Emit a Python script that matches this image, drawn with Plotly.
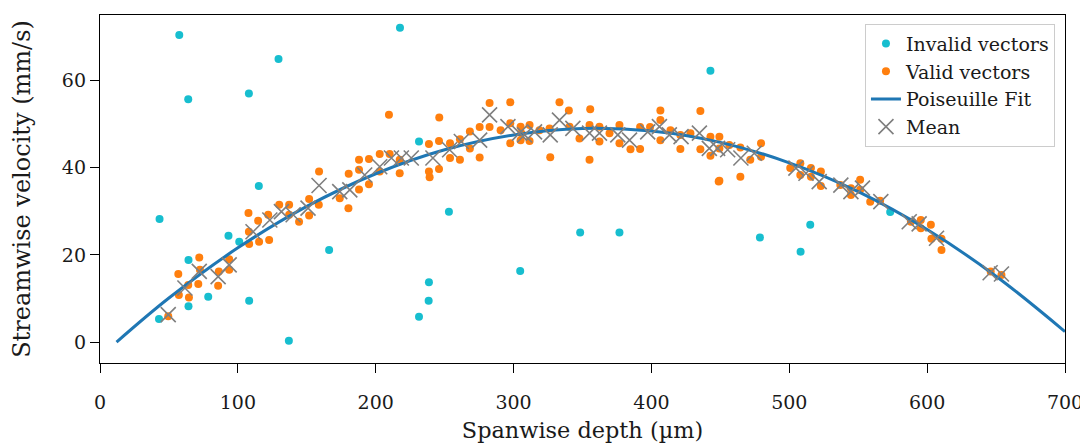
import plotly.graph_objects as go

# ---------------- data ----------------
invalid_x = [57.5, 129.5, 64.0, 108.0, 115.2, 43.2, 64.2, 93.2, 101.0, 78.5, 64.2, 42.8,
             108.2, 137.0, 166.2, 217.6, 231.4, 253.1, 348.3, 376.8, 304.8, 238.6, 238.4,
             231.4, 442.8, 478.7, 515.2, 508.2, 573.2]
invalid_y = [70.4, 64.9, 55.7, 57.0, 35.8, 28.2, 18.8, 24.4, 23.0, 10.4, 8.2, 5.3,
             9.5, 0.3, 21.1, 72.1, 46.0, 29.9, 25.1, 25.1, 16.3, 13.7, 9.5,
             5.8, 62.2, 24.0, 26.9, 20.7, 29.8]

valid_x = [49.5, 56.8, 72.0, 57.2, 64.5, 64.0, 71.3, 72.5, 85.7, 86.2, 93.7, 93.7,
           107.7, 108.0, 108.2, 114.7, 115.4, 122.7, 122.0, 130.0, 137.2, 137.2, 144.4,
           151.7, 151.7, 158.7, 158.9,
           180.2, 173.9, 180.4, 187.9, 187.9, 195.1, 195.1, 187.9, 202.9, 210.1, 209.6,
           217.4, 217.4, 202.9, 238.6, 238.6, 239.1, 245.9, 245.9, 246.1, 253.9, 253.9,
           261.1, 261.1, 268.3, 268.3, 275.4, 275.4, 282.6, 282.6, 290.6, 297.6, 297.6,
           297.6, 305.1, 305.1,
           333.3, 340.1, 355.6, 326.6, 355.1, 311.6, 311.6, 305.6, 318.8, 326.1, 340.6,
           347.8, 355.1, 362.3, 362.3, 369.6, 376.8, 376.8, 384.8, 391.8, 391.8, 399.0,
           406.5, 406.5, 406.5, 413.8, 421.0, 421.0, 428.3, 435.5, 435.5, 442.8, 442.8,
           448.8,
           449.3, 449.3, 456.5, 464.5, 471.7, 479.5, 479.5, 449.3, 464.5, 500.7, 508.0,
           508.0, 515.7, 522.9, 522.9, 515.7, 537.0, 544.7, 544.7, 551.4, 551.4, 558.7,
           565.9,
           588.2, 595.4, 595.4, 602.7, 603.1, 610.4, 610.4, 646.1, 653.9]
valid_y = [5.9, 15.6, 19.4, 10.8, 10.2, 13.1, 13.3, 16.6, 12.9, 16.2, 19.0, 16.6,
           29.6, 25.3, 22.5, 27.8, 23.0, 23.4, 29.2, 31.5, 31.5, 29.2, 27.6,
           32.8, 29.0, 31.5, 39.1,
           30.7, 33.0, 38.6, 35.0, 41.8, 42.0, 36.2, 39.5, 43.1, 43.1, 52.1,
           38.7, 41.8, 39.1, 45.4, 39.1, 37.8, 39.7, 46.1, 51.5, 45.6, 42.2,
           41.8, 46.5, 48.3, 44.4, 49.3, 42.3, 54.8, 49.3, 48.6, 55.0, 50.2,
           45.6, 49.4, 46.3,
           55.0, 53.1, 53.4, 42.4, 41.8, 49.8, 46.1, 47.9, 48.6, 49.0, 49.4,
           46.7, 49.8, 49.4, 46.0, 47.9, 49.8, 45.6, 44.2, 44.3, 49.3, 49.3,
           53.1, 50.9, 46.3, 48.6, 44.3, 47.5, 47.9, 53.0, 44.2, 47.1, 42.7,
           36.8,
           47.1, 44.4, 45.2, 44.6, 41.8, 45.6, 42.5, 37.0, 37.9, 39.9, 41.0,
           38.3, 39.9, 39.1, 35.8, 37.9, 36.0, 35.3, 33.7, 37.2, 34.9, 32.2,
           32.4,
           27.6, 28.0, 26.1, 26.9, 23.7, 23.7, 21.1, 16.2, 15.4]

mean_x = [49.5, 61.6, 72.0, 85.7, 93.7, 111.0, 123.2, 131.6, 140.1, 150.9, 158.9,
          173.9, 181.2, 192.0, 202.9, 211.4, 218.6, 225.8, 241.5, 253.6, 262.1, 275.4,
          282.6, 295.9, 304.3,
          308.0, 315.2, 326.6, 333.3, 343.0, 355.1, 362.3, 375.6, 384.1, 397.3, 405.8,
          413.0, 421.5, 434.8, 442.0,
          448.0, 455.3, 464.9, 474.6, 504.8, 512.1, 521.7, 537.4, 544.7, 553.1, 566.4,
          587.0, 594.2, 606.8, 645.7, 653.9]
mean_y = [6.3, 12.4, 16.2, 15.0, 17.7, 25.3, 28.0, 29.9, 29.2, 30.7, 35.9,
          34.5, 34.9, 38.3, 40.2, 42.2, 42.2, 42.2, 42.2, 44.1, 46.0, 46.3,
          52.1, 49.4, 47.9,
          47.5, 48.2, 47.5, 50.9, 49.0, 47.9, 47.9, 47.5, 46.3, 48.2, 49.4,
          47.5, 47.1, 47.9, 44.4,
          44.4, 44.1, 42.2, 43.3, 39.9, 38.7, 36.8, 36.0, 34.5, 35.3, 32.2,
          27.6, 27.1, 23.8, 15.9, 15.6]

fit_x = [12, 50, 100, 150, 200, 250, 300, 350, 400, 450, 500, 550, 600, 650, 700]
fit_y = [0.0, 10.1, 21.6, 31.1, 38.6, 44.1, 47.5, 49.0, 48.4, 45.8, 41.1, 34.5, 25.8, 15.1, 2.4]

x_ticks = [0, 100, 200, 300, 400, 500, 600, 700]
y_ticks = [0, 20, 40, 60]

FONT = "DejaVu Serif"
TXT = "#1a1a1a"

fig = go.Figure()
fig.add_trace(go.Scatter(x=invalid_x, y=invalid_y, mode="markers", name="Invalid vectors",
                         marker=dict(color="#17becf", size=8, line=dict(width=0))))
fig.add_trace(go.Scatter(x=valid_x, y=valid_y, mode="markers", name="Valid vectors",
                         marker=dict(color="#ff7f0e", size=8, line=dict(width=0))))
fig.add_trace(go.Scatter(x=fit_x, y=fit_y, mode="lines", name="Poiseuille Fit",
                         line=dict(color="#1f77b4", width=3, shape="spline", smoothing=1.0)))
fig.add_trace(go.Scatter(x=mean_x, y=mean_y, mode="markers", name="Mean",
                         marker=dict(symbol="x-thin", size=15, color="#7f7f7f",
                                     line=dict(color="#7f7f7f", width=1.6))))

axis_common = dict(showline=True, linecolor="black", linewidth=1.3, mirror=True,
                   ticks="outside", ticklen=9, tickwidth=1.3, tickcolor="black",
                   showgrid=False, zeroline=False, automargin=False,
                   tickfont=dict(family=FONT, size=19, color=TXT))

fig.update_xaxes(range=[0, 700], tickvals=x_ticks, ticklabelstandoff=13,
                 title=dict(text="Spanwise depth (µm)", font=dict(family=FONT, size=22.4, color=TXT),
                            standoff=10),
                 **axis_common)
fig.update_yaxes(range=[-4.8, 75], tickvals=y_ticks,
                 title=dict(text="Streamwise velocity (mm/s)", font=dict(family=FONT, size=24, color=TXT),
                            standoff=24),
                 **axis_common)

# page body has an 8px default margin: compensate so the plot area lands where the reference has it
fig.update_layout(
    width=1080, height=437,
    margin=dict(l=92, r=23, t=7, b=82),
    plot_bgcolor="white", paper_bgcolor="white",
    font=dict(family=FONT, color=TXT),
    legend=dict(x=0.9896, y=0.975, xanchor="right", yanchor="top",
                bgcolor="rgba(255,255,255,0.85)", bordercolor="#cccccc", borderwidth=1,
                font=dict(family=FONT, size=19, color=TXT), tracegroupgap=0),
    showlegend=True,
)

fig.write_html("out.html")
